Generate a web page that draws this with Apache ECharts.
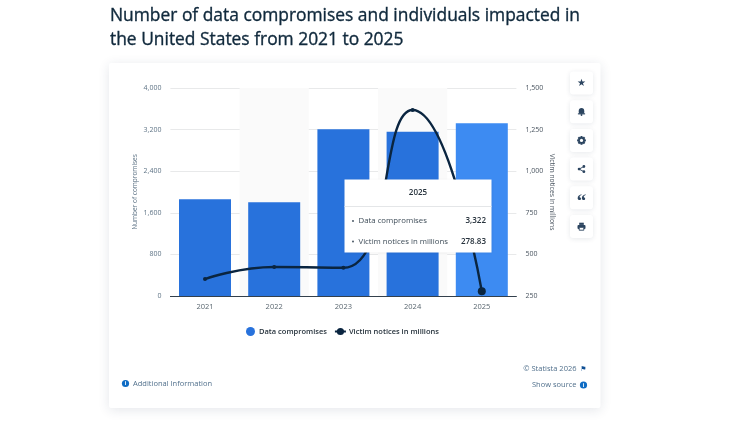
<!DOCTYPE html>
<html>
<head>
<meta charset="utf-8">
<style>
html,body{margin:0;padding:0;background:#fff;}
#chart{width:736px;height:423px;}
</style>
<script src="https://cdn.jsdelivr.net/npm/echarts@6/dist/echarts.min.js"></script>
</head>
<body>
<div id="chart"></div>
<script>
// Breach statistics, United States
const years = ['2021', '2022', '2023', '2024', '2025'];
const compromises = [1862, 1802, 3205, 3158, 3322];
const victimNotices = [352, 424, 420, 1368, 278.83];
const leftTicks = ['0', '800', '1,600', '2,400', '3,200', '4,000'];
const activeYear = '2025';

const FONT = '"Open Sans", "Noto Sans", sans-serif';
const BLUE = '#2872dc';
const BLUE_ACTIVE = '#3d8bf2';
const NAVY = '#0a2540';
const AXIS_TEXT = '#5f7486';
const TOP = 100;

const fmt = v => Number(v).toLocaleString('en-US');
const activeIdx = years.indexOf(activeYear);

const chart = echarts.init(document.getElementById('chart'), null, {renderer: 'canvas'});

// Toolbar buttons on the right of the card
function toolButton(cy, icon) {
  return {
    type: 'group', x: 581.5, y: cy,
    children: [
      {type: 'rect', z: TOP, shape: {x: -11.5, y: -11.5, width: 23, height: 23, r: 3},
       style: {fill: '#fff', shadowBlur: 5, shadowColor: 'rgba(20,40,70,0.10)', shadowOffsetY: 1}}
    ].concat(icon.map(e => Object.assign({z: TOP + 1}, e)))
  };
}
const ic = '#2c4560';
const gearTeeth = [0, 45, 90, 135].map(deg => ({
  type: 'rect', rotation: deg * Math.PI / 180,
  shape: {x: -4.4, y: -1, width: 8.8, height: 2}, style: {fill: ic}
}));
const icons = [
  [{type: 'text', x: 0, y: 0, style: {text: '★', font: '10px "DejaVu Sans"', fill: ic, align: 'center', verticalAlign: 'middle'}}],
  [{type: 'circle', shape: {cx: 0, cy: -1, r: 2.7}, style: {fill: ic}},
   {type: 'rect', shape: {x: -2.7, y: -1, width: 5.4, height: 3}, style: {fill: ic}},
   {type: 'rect', shape: {x: -3.6, y: 1.6, width: 7.2, height: 1.1}, style: {fill: ic}},
   {type: 'circle', shape: {cx: 0, cy: 3.3, r: 0.9}, style: {fill: ic}}],
  gearTeeth.concat([
    {type: 'circle', shape: {cx: 0, cy: 0, r: 3.4}, style: {fill: ic}},
    {type: 'circle', z: TOP + 2, shape: {cx: 0, cy: 0, r: 1.6}, style: {fill: '#fff'}}
  ]),
  [{type: 'line', shape: {x1: -2.4, y1: 0, x2: 2.4, y2: -2.6}, style: {stroke: ic, lineWidth: 0.9}},
   {type: 'line', shape: {x1: -2.4, y1: 0, x2: 2.4, y2: 2.6}, style: {stroke: ic, lineWidth: 0.9}},
   {type: 'circle', shape: {cx: -2.4, cy: 0, r: 1.4}, style: {fill: ic}},
   {type: 'circle', shape: {cx: 2.4, cy: -2.6, r: 1.4}, style: {fill: ic}},
   {type: 'circle', shape: {cx: 2.4, cy: 2.6, r: 1.4}, style: {fill: ic}}],
  [{type: 'text', x: 0, y: 4, style: {text: '“', font: 'bold 19px "Liberation Serif"', fill: ic, align: 'center', verticalAlign: 'middle'}}],
  [{type: 'rect', shape: {x: -4, y: -1.6, width: 8, height: 4, r: 1}, style: {fill: ic}},
   {type: 'rect', shape: {x: -2.3, y: -3.8, width: 4.6, height: 2.2}, style: {fill: ic}},
   {type: 'rect', z: TOP + 2, shape: {x: -2.3, y: 0.8, width: 4.6, height: 2.9}, style: {fill: '#fff', stroke: ic, lineWidth: 0.9}}]
];
const buttons = icons.map((icon, i) => toolButton(83 + i * 28.7, icon));

// Info badge used next to the footer links
function infoBadge(cx, cy) {
  return {
    type: 'group', x: cx, y: cy,
    children: [
      {type: 'circle', z: TOP, shape: {cx: 0, cy: 0, r: 3.6}, style: {fill: '#0f6cc4'}},
      {type: 'text', z: TOP + 1, style: {text: 'i', x: 0, y: 0, font: 'bold 5.5px ' + FONT, fill: '#fff', align: 'center', verticalAlign: 'middle'}}
    ]
  };
}

// Fixed readout panel for the active year
const tipX = 344.5, tipY = 179.5, tipW = 147, tipH = 73;
const tipRows = [
  ['Data compromises', fmt(compromises[activeIdx]), 221],
  ['Victim notices in millions', victimNotices[activeIdx].toFixed(2), 241.5]
];
const tipChildren = [
  {type: 'rect', z: TOP, shape: {x: tipX, y: tipY, width: tipW, height: tipH},
   style: {fill: '#fff', shadowBlur: 3, shadowColor: 'rgba(0,0,0,0.10)'}},
  {type: 'line', z: TOP + 1, shape: {x1: tipX, y1: tipY + 27, x2: tipX + tipW, y2: tipY + 27}, style: {stroke: '#e4e6e8', lineWidth: 1}},
  {type: 'text', z: TOP + 1, style: {text: activeYear, x: tipX + tipW / 2, y: tipY + 13, font: '600 8px ' + FONT, fill: '#27323c', align: 'center', verticalAlign: 'middle'}}
];
tipRows.forEach(r => {
  tipChildren.push(
    {type: 'circle', z: TOP + 1, shape: {cx: 353, cy: r[2], r: 0.9}, style: {fill: '#3a4a58'}},
    {type: 'text', z: TOP + 1, style: {text: r[0], x: 358.5, y: r[2], font: '7.8px ' + FONT, fill: '#3e4c58', align: 'left', verticalAlign: 'middle'}},
    {type: 'text', z: TOP + 1, style: {text: r[1], x: 486, y: r[2], font: '600 8px ' + FONT, fill: '#27323c', align: 'right', verticalAlign: 'middle'}}
  );
});

const footText = (text, x, y, align) => ({
  type: 'text', z: TOP,
  style: {text, x, y, font: '7.5px ' + FONT, fill: '#51708c', align, verticalAlign: 'middle'}
});

const option = {
  animation: false,
  backgroundColor: '#fff',
  title: [{
    text: 'Number of data compromises and individuals impacted in\nthe United States from 2021 to 2025',
    left: 105, top: -1,
    textStyle: {fontFamily: FONT, fontSize: 17.4, fontWeight: 500, color: '#10293c', lineHeight: 24,
      textBorderColor: '#10293c', textBorderWidth: 0.35}
  }],
  grid: {left: 170.4, right: 219.6, top: 88, bottom: 127, containLabel: false},
  legend: {
    top: 322, left: 241,
    itemGap: 7, itemWidth: 11, itemHeight: 9,
    data: [
      {name: 'Data compromises', icon: 'circle', itemStyle: {color: BLUE}},
      {name: 'Victim notices in millions'}
    ],
    textStyle: {fontFamily: FONT, fontSize: 7.5, fontWeight: 600, color: '#26323c', padding: [0, 0, 0, -2]}
  },
  xAxis: {
    type: 'category', data: years,
    axisTick: {show: false},
    axisLine: {lineStyle: {color: '#33404c', width: 1}},
    axisLabel: {fontFamily: FONT, fontSize: 7.5, color: '#59666f', margin: 7},
    splitArea: {show: true, areaStyle: {color: ['rgba(0,0,0,0)', '#fafafa']}}
  },
  yAxis: [{
    type: 'value', min: 0, max: 4000, interval: 800,
    name: 'Number of compromises', nameLocation: 'middle', nameGap: 32, nameRotate: 90,
    nameTextStyle: {fontFamily: FONT, fontSize: 6.5, color: AXIS_TEXT},
    axisLabel: {fontFamily: FONT, fontSize: 7, color: AXIS_TEXT, margin: 9, padding: [2, 0, 0, 0],
      formatter: (v, i) => leftTicks[i]},
    splitLine: {lineStyle: {color: '#e8e9ea', width: 1}}
  }, {
    type: 'value', min: 250, max: 1500, interval: 250,
    name: 'Victim notices in millions', nameLocation: 'middle', nameGap: 32, nameRotate: -90,
    nameTextStyle: {fontFamily: FONT, fontSize: 6.7, color: '#4a5560'},
    axisLabel: {fontFamily: FONT, fontSize: 7, color: '#4a5560', margin: 9, padding: [2, 0, 0, 0],
      formatter: v => fmt(v)},
    splitLine: {show: false}
  }],
  series: [{
    name: 'Data compromises', type: 'bar', barWidth: 52, yAxisIndex: 0,
    data: compromises.map((v, i) => ({value: v, itemStyle: {color: i === activeIdx ? BLUE_ACTIVE : BLUE}}))
  }, {
    name: 'Victim notices in millions', type: 'line', yAxisIndex: 1, smooth: 0.5,
    symbol: 'circle',
    data: victimNotices.map((v, i) => ({value: v, symbolSize: i === activeIdx ? 8 : 4})),
    lineStyle: {color: NAVY, width: 2.4},
    itemStyle: {color: NAVY}
  }],
  graphic: [
    {type: 'rect', z: -10, silent: true, shape: {x: 109, y: 63, width: 491.5, height: 345, r: 2},
     style: {fill: '#fff', shadowBlur: 12, shadowColor: 'rgba(30,50,80,0.12)', shadowOffsetY: 2}},
    {type: 'group', children: tipChildren},
    infoBadge(125.5, 383.5),
    footText('Additional Information', 133, 383.7, 'left'),
    footText('© Statista 2026', 576.5, 369, 'right'),
    {type: 'text', z: TOP, style: {text: '⚑', x: 583.5, y: 369, font: '7px "DejaVu Sans"', fill: '#0f4f94', align: 'center', verticalAlign: 'middle'}},
    footText('Show source', 576.5, 385, 'right'),
    infoBadge(583.5, 385)
  ].concat(buttons)
};
chart.setOption(option);
</script>
</body>
</html>
